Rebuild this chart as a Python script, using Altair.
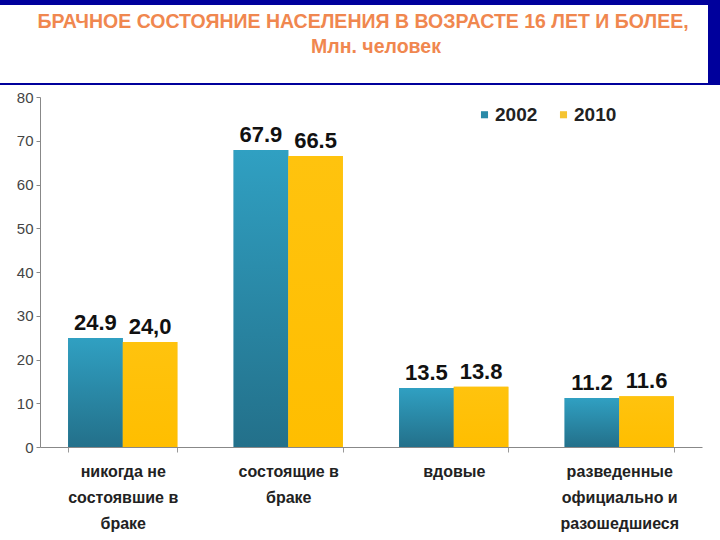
import altair as alt
import pandas as pd

categories = [
    "никогда не|состоявшие в|браке",
    "состоящие в|браке",
    "вдовые",
    "разведенные|официально и|разошедшиеся",
]
years = ["2002", "2010"]
values_2002 = [24.9, 67.9, 13.5, 11.2]
values_2010 = [24.0, 66.5, 13.8, 11.6]
labels_2002 = ["24.9", "67.9", "13.5", "11.2"]
labels_2010 = ["24,0", "66.5", "13.8", "11.6"]
y_ticks = [0, 10, 20, 30, 40, 50, 60, 70, 80]

title_lines = ["БРАЧНОЕ СОСТОЯНИЕ НАСЕЛЕНИЯ В ВОЗРАСТЕ 16 ЛЕТ И БОЛЕЕ,", "Млн. человек"]

rows = []
for c, v, l in zip(categories, values_2002, labels_2002):
    rows.append({"cat": c, "year": "2002", "value": v, "label": l})
for c, v, l in zip(categories, values_2010, labels_2010):
    rows.append({"cat": c, "year": "2010", "value": v, "label": l})
df = pd.DataFrame(rows)

FONT = "Liberation Sans"
NAVY = "#00009C"
TITLE_COLOR = "#F0874F"

x_enc = alt.X(
    "cat:N",
    sort=categories,
    scale=alt.Scale(domain=categories, paddingInner=0.34, paddingOuter=0.17),
    axis=alt.Axis(
        title=None,
        labelExpr="split(datum.label, '|')",
        labelAngle=0,
        labelFont=FONT,
        labelFontSize=16,
        labelFontWeight="bold",
        labelColor="#222222",
        labelLineHeight=26,
        labelPadding=11,
        tickBand="extent",
        tickSize=5,
        tickColor="#999999",
        domainColor="#888888",
        labelLimit=300,
    ),
)
xo_enc = alt.XOffset("year:N", scale=alt.Scale(domain=years, paddingInner=0, paddingOuter=0))
y_enc = alt.Y(
    "value:Q",
    scale=alt.Scale(domain=[0, 80], nice=False),
    axis=alt.Axis(
        title=None,
        values=y_ticks,
        grid=False,
        labelFont=FONT,
        labelFontSize=15,
        labelColor="#444444",
        domainColor="#888888",
        tickColor="#888888",
        tickSize=4,
        labelPadding=3,
    ),
)

base = alt.Chart(df).encode(x=x_enc, xOffset=xo_enc, y=y_enc)

bars = base.mark_bar().encode(
    color=alt.Color(
        "year:N",
        scale=alt.Scale(domain=years, range=["#2A8AA8", "#F5C431"]),
        legend=alt.Legend(
            title=None,
            orient="none",
            legendX=435,
            legendY=8,
            direction="horizontal",
            symbolType="square",
            symbolSize=50,
            symbolStrokeWidth=0,
            labelFont=FONT,
            labelFontSize=19,
            labelFontWeight="bold",
            labelColor="#222222",
            labelOffset=1,
            columnPadding=16,
        ),
    )
)

grad_2002 = alt.Gradient(
    gradient="linear",
    stops=[alt.GradientStop(color="#30A0C2", offset=0), alt.GradientStop(color="#23708A", offset=1)],
    x1=0, x2=0, y1=0, y2=1,
)
grad_2010 = alt.Gradient(
    gradient="linear",
    stops=[alt.GradientStop(color="#FFC30E", offset=0), alt.GradientStop(color="#FFBE00", offset=1)],
    x1=0, x2=0, y1=0, y2=1,
)

bars_2002 = base.mark_bar(fill=grad_2002).transform_filter(alt.datum.year == "2002")
bars_2010 = base.mark_bar(fill=grad_2010).transform_filter(alt.datum.year == "2010")

texts = base.mark_text(
    baseline="bottom", dy=-3, font=FONT, fontSize=22, fontWeight="bold", color="#111111"
).encode(text="label:N")

deco_data = alt.Data(values=[{"k": 1}])
top_band = alt.Chart(deco_data).mark_rect(color=NAVY).encode(
    x=alt.value(-40), x2=alt.value(680), y=alt.value(-97), y2=alt.value(-92)
)
right_band = alt.Chart(deco_data).mark_rect(color=NAVY).encode(
    x=alt.value(668), x2=alt.value(680), y=alt.value(-97), y2=alt.value(-12)
)
bottom_line = alt.Chart(deco_data).mark_rect(color=NAVY).encode(
    x=alt.value(-40), x2=alt.value(668), y=alt.value(-14), y2=alt.value(-12)
)
title1 = alt.Chart(deco_data).mark_text(
    font=FONT, fontSize=19.5, fontWeight="bold", color=TITLE_COLOR, baseline="middle", align="center"
).encode(x=alt.value(323), y=alt.value(-75), text=alt.value(title_lines[0]))
title2 = alt.Chart(deco_data).mark_text(
    font=FONT, fontSize=19.5, fontWeight="bold", color=TITLE_COLOR, baseline="middle", align="center"
).encode(x=alt.value(336), y=alt.value(-50), text=alt.value(title_lines[1]))

chart = (
    alt.layer(bars, bars_2002, bars_2010, texts, top_band, right_band, bottom_line, title1, title2)
    .properties(
        width=662,
        height=350,
        autosize=alt.AutoSizeParams(type="none"),
        padding={"left": 40, "top": 97, "right": 18, "bottom": 93},
        background="white",
    )
    .configure_view(stroke=None)
)

chart.save("out.html", embed_options={"renderer": "svg", "actions": False})
